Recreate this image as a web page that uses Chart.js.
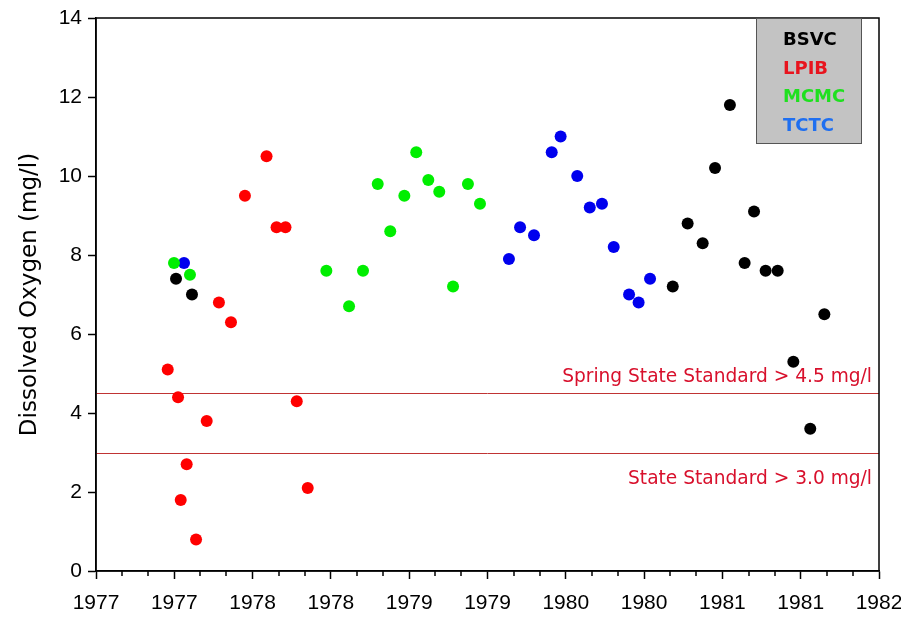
<!DOCTYPE html>
<html>
<head>
<meta charset="utf-8">
<script src="https://cdn.jsdelivr.net/npm/chart.js@4.4.1/dist/chart.umd.min.js"></script>
<style>
  html, body { margin: 0; padding: 0; background: #fff; }
  #wrap { width: 901px; height: 619px; }
</style>
</head>
<body>
<div id="wrap"><canvas id="doChart" width="901" height="619"></canvas></div>
<script>
// sampling dates (decimal year) and dissolved oxygen (mg/l) per station
const bsvcYears = [1977.511, 1977.613, 1980.683, 1980.778, 1980.874, 1980.953, 1981.048, 1981.142, 1981.202, 1981.276, 1981.353, 1981.453, 1981.561, 1981.651];
const bsvcDO = [7.4, 7.0, 7.2, 8.8, 8.3, 10.2, 11.8, 7.8, 9.1, 7.6, 7.6, 5.3, 3.6, 6.5];

const lpibYears = [1977.458, 1977.524, 1977.541, 1977.579, 1977.639, 1977.707, 1977.785, 1977.862, 1977.951, 1978.089, 1978.153, 1978.210, 1978.282, 1978.352];
const lpibDO = [5.1, 4.4, 1.8, 2.7, 0.8, 3.8, 6.8, 6.3, 9.5, 10.5, 8.7, 8.7, 4.3, 2.1];

const mcmcYears = [1977.498, 1977.600, 1978.471, 1978.616, 1978.705, 1978.799, 1978.879, 1978.969, 1979.045, 1979.122, 1979.192, 1979.280, 1979.375, 1979.452];
const mcmcDO = [7.8, 7.5, 7.6, 6.7, 7.6, 9.8, 8.6, 9.5, 10.6, 9.9, 9.6, 7.2, 9.8, 9.3];

const tctcYears = [1977.562, 1979.637, 1979.708, 1979.797, 1979.910, 1979.967, 1980.073, 1980.153, 1980.231, 1980.306, 1980.404, 1980.465, 1980.538];
const tctcDO = [7.8, 7.9, 8.7, 8.5, 10.6, 11.0, 10.0, 9.2, 9.3, 8.2, 7.0, 6.8, 7.4];

const stations = ['BSVC', 'LPIB', 'MCMC', 'TCTC'];
const standardValues = [4.5, 3.0];
const standardLabels = ['Spring State Standard > 4.5 mg/l', 'State Standard > 3.0 mg/l'];

function pts(xs, ys) {
    return xs.map((x, i) => ({ x: x, y: ys[i] }));
}

const dotColors = ['#000000', '#ff0000', '#00ee00', '#0000ee'];
const keyColors = ['#000000', '#e8141e', '#1fe01f', '#1f6ff0'];
const seriesData = [pts(bsvcYears, bsvcDO), pts(lpibYears, lpibDO), pts(mcmcYears, mcmcDO), pts(tctcYears, tctcDO)];

// box around plot, standard lines, minor x ticks and station key
const extras = {
    id: 'extras',
    beforeDatasetsDraw(chart) {
        const { ctx, chartArea: a, scales: { y } } = chart;
        ctx.save();
        ctx.strokeStyle = '#c03434';
        ctx.lineWidth = 1;
        standardValues.forEach(v => {
            const py = Math.round(y.getPixelForValue(v)) + 0.5;
            ctx.beginPath();
            ctx.moveTo(a.left, py);
            ctx.lineTo(a.right, py);
            ctx.stroke();
        });
        ctx.fillStyle = '#d8102c';
        ctx.font = '18.6px "DejaVu Sans"';
        ctx.textAlign = 'right';
        ctx.textBaseline = 'alphabetic';
        ctx.fillText(standardLabels[0], a.right - 7, y.getPixelForValue(standardValues[0]) - 11);
        ctx.fillText(standardLabels[1], a.right - 7, y.getPixelForValue(standardValues[1]) + 31);
        ctx.restore();
    },
    afterDraw(chart) {
        const { ctx, chartArea: a, scales: { x } } = chart;
        ctx.save();
        ctx.strokeStyle = '#000';
        ctx.lineWidth = 1.5;
        ctx.strokeRect(a.left, a.top, a.right - a.left, a.bottom - a.top);

        ctx.lineWidth = 1.5;
        for (let m = 0; m <= 60; m += 2) {
            if (m % 6 === 0) continue;
            const px = Math.round(x.getPixelForValue(1977 + m / 12));
            ctx.beginPath();
            ctx.moveTo(px, a.bottom);
            ctx.lineTo(px, a.bottom + 5);
            ctx.stroke();
        }

        // station key
        const bx = 756, by = a.top, bw = 105, bh = 125;
        ctx.fillStyle = '#c3c3c3';
        ctx.fillRect(bx, by, bw, bh);
        ctx.strokeStyle = '#555';
        ctx.lineWidth = 1;
        ctx.strokeRect(bx + 0.5, by + 0.5, bw, bh);
        ctx.font = 'bold 18px "DejaVu Sans"';
        ctx.textAlign = 'left';
        ctx.textBaseline = 'alphabetic';
        chart.data.datasets.forEach((ds, i) => {
            ctx.fillStyle = keyColors[i];
            ctx.fillText(ds.label, 783, by + 27 + i * 28.6);
        });
        ctx.restore();
    }
};

new Chart(document.getElementById('doChart').getContext('2d'), {
    type: 'scatter',
    data: {
        datasets: stations.map((s, i) => ({
            label: s,
            data: seriesData[i],
            backgroundColor: dotColors[i],
            borderWidth: 0,
            pointRadius: 6,
            pointHoverRadius: 6
        }))
    },
    options: {
        responsive: false,
        animation: false,
        layout: { padding: { top: 18, right: 22, left: 0, bottom: 0 } },
        plugins: {
            legend: { display: false },
            tooltip: { enabled: false }
        },
        scales: {
            x: {
                type: 'linear',
                min: 1977,
                max: 1982,
                afterFit(scale) {
                    scale.height = 48;
                    scale.paddingLeft = 0;
                    scale.paddingRight = 0;
                },
                ticks: {
                    stepSize: 0.5,
                    padding: 12,
                    color: '#000',
                    font: { family: '"Liberation Sans"', size: 21 },
                    callback: v => String(Math.floor(v))
                },
                grid: { drawOnChartArea: false, tickLength: 8, tickColor: '#000', tickWidth: 1.5 },
                border: { color: '#000', width: 1.5 }
            },
            y: {
                min: 0,
                max: 14,
                afterFit(scale) {
                    scale.width = 96;
                    scale.paddingTop = 0;
                    scale.paddingBottom = 0;
                },
                ticks: {
                    stepSize: 2,
                    padding: 6,
                    color: '#000',
                    font: { family: '"Liberation Sans"', size: 21 }
                },
                title: {
                    display: true,
                    text: 'Dissolved Oxygen (mg/l)',
                    color: '#000',
                    font: { family: '"DejaVu Sans"', size: 23 },
                    padding: { top: 16, bottom: 0 }
                },
                grid: { drawOnChartArea: false, tickLength: 8, tickColor: '#000', tickWidth: 1.5 },
                border: { color: '#000', width: 1.5 }
            }
        }
    },
    plugins: [extras]
});
</script>
</body>
</html>
